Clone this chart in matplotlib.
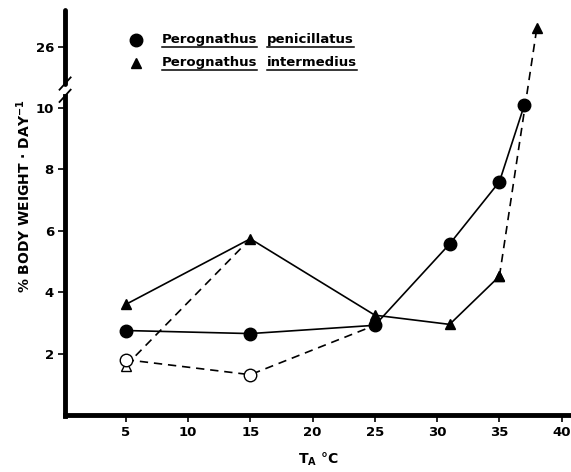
import matplotlib
matplotlib.use("Agg")
import matplotlib.pyplot as plt
import numpy as np

# data
temp_pen = [5, 15, 25, 31, 35, 37]
wt_pen = [2.75, 2.65, 2.92, 5.57, 7.6, 10.1]

temp_int = [5, 15, 25, 31, 35]
wt_int = [3.6, 5.74, 3.25, 2.95, 4.52]
temp_int_hi = [35, 38]
wt_int_hi = [4.52, 26.6]

temp_open_circ = [5, 15, 25]
wt_open_circ = [1.8, 1.31, 2.92]
temp_open_tri = [5, 15]
wt_open_tri = [1.6, 5.74]

yticks = [2, 4, 6, 8, 10, 26]
xticks = [5, 10, 15, 20, 25, 30, 35, 40]
legend_names = [["Perognathus", "penicillatus"], ["Perognathus", "intermedius"]]


# broken axis: values above the break are shifted so that 26 sits at 12
def squash(v):
    v = np.asarray(v, dtype=float)
    return np.where(v > 13, 12 + (v - 26), v)


plt.rcParams['font.family'] = 'DejaVu Sans'
plt.rcParams['font.weight'] = 'bold'

fig = plt.figure(figsize=(5.71, 4.72), dpi=100)
ax = fig.add_axes([0.114, 0.121, 0.885, 0.858])

lw = 1.2
dash = (5, 3.5)
ax.plot(temp_pen, squash(wt_pen), '-', color='black', lw=lw,
        marker='o', ms=9, mfc='black', mec='black', zorder=3)
ax.plot(temp_int, squash(wt_int), '-', color='black', lw=lw,
        marker='^', ms=7.5, mfc='black', mec='black', zorder=3)
ax.plot(temp_int_hi, squash(wt_int_hi), '--', color='black', lw=lw, dashes=dash,
        marker='^', ms=7.5, mfc='black', mec='black', zorder=3)
ax.plot(temp_open_circ, squash(wt_open_circ), '--', color='black', lw=lw,
        dashes=dash, zorder=2)
ax.plot(temp_open_circ[:2], squash(wt_open_circ[:2]), ls='none',
        marker='o', ms=9, mfc='white', mec='black', zorder=4)
ax.plot(temp_open_tri, squash(wt_open_tri), '--', color='black', lw=lw, dashes=dash, zorder=2)
ax.plot(temp_open_tri[:1], squash(wt_open_tri[:1]), ls='none',
        marker='^', ms=7, mfc='white', mec='black', zorder=3)

ax.set_xlim(0.13, 40.7)
ax.set_ylim(0, 13.2)

for s in ['top', 'right', 'left']:
    ax.spines[s].set_visible(False)
ax.spines['bottom'].set_linewidth(3.5)

# left spine drawn in two pieces with a break
tr = ax.get_yaxis_transform()
ax.plot([0, 0], [-0.05, 10.4], color='black', lw=3.5, transform=tr, clip_on=False)
ax.plot([0, 0], [10.8, 13.2], color='black', lw=3.5, transform=tr, clip_on=False,
        solid_capstyle='round')
for yb in [10.4, 10.8]:
    ax.plot([-0.011, 0.011], [yb - 0.2, yb + 0.2], color='black', lw=1.3,
            transform=tr, clip_on=False)

ax.set_yticks(squash(yticks))
ax.set_yticklabels([str(t) for t in yticks], fontsize=9.5, fontweight='bold')
ax.set_xticks(xticks)
ax.set_xticklabels([str(t) for t in xticks], fontsize=9.5, fontweight='bold')
ax.tick_params(axis='both', direction='out', length=5, width=1.2, pad=3)

ax.set_ylabel("% BODY WEIGHT · DAY$^{\\mathbf{-1}}$", fontsize=10, fontweight='bold')
ax.yaxis.set_label_coords(-0.063, 0.54)
fig.text(0.557, 0.017, "T$_\\mathbf{A}$ °C", fontsize=10, fontweight='bold', ha='center')

# legend with underlined words
rows = [12.23, 11.48]
ax.plot([5.83], [rows[0]], 'o', color='black', ms=9, clip_on=False)
ax.plot([5.83], [rows[1]], '^', color='black', ms=7.5, clip_on=False)
fig.canvas.draw()
rend = fig.canvas.get_renderer()
for names, yrow in zip(legend_names, rows):
    x0 = 7.9
    for w in names:
        t = ax.text(x0, yrow, w, fontsize=9.5, fontweight='bold', va='center', ha='left')
        bb = t.get_window_extent(rend).transformed(ax.transData.inverted())
        ax.plot([bb.x0, bb.x1], [bb.y0 - 0.02, bb.y0 - 0.02], color='black', lw=1.1)
        x0 = bb.x1 + 0.75

fig.savefig("out.png", dpi=100)
